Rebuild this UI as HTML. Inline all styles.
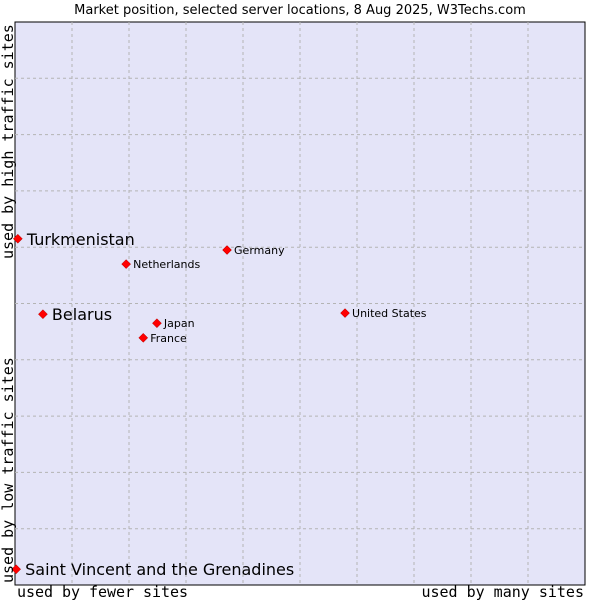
<!DOCTYPE html>
<html><head><meta charset="utf-8"><style>
body{margin:0;background:#fff;width:600px;height:600px;overflow:hidden}
svg text{font-family:"DejaVu Sans","Liberation Sans",sans-serif}
.ax{font-family:'DejaVu Sans Mono','Liberation Mono',monospace;font-size:15px}
</style></head><body>
<svg id="c" width="600" height="600">
<text x="300" y="14" text-anchor="middle" font-size="13" fill="#000">Market position, selected server locations, 8 Aug 2025, W3Techs.com</text>
<rect x="15" y="22" width="570" height="563" fill="#e4e4f8" stroke="#000" stroke-width="1"/>
<g id="grid"></g>
<g id="pts"></g>
<text x="17" y="597" class="ax" textLength="171">used by fewer sites</text>
<text x="584" y="597" text-anchor="end" class="ax">used by many sites</text>
<text transform="translate(13,583) rotate(-90)" class="ax">used by low traffic sites</text>
<text transform="translate(13,259) rotate(-90)" class="ax">used by high traffic sites</text>
</svg>
<script>
const names=["Turkmenistan","Belarus","Saint Vincent and the Grenadines","Netherlands","Germany","Japan","France","United States"];
const xs=[0.5,4.9,0.2,19.5,37.2,24.9,22.5,57.9];
const ys=[61.5,48.1,2.8,57.0,59.5,46.5,43.9,48.3];
const big=[true,true,true,false,false,false,false,false];
const X0=15,W=570,Y0=22,H=563;
const sx=v=>X0+v/100*W, sy=v=>Y0+H-v/100*H;
const NS="http://www.w3.org/2000/svg";
const g=document.getElementById('grid');
for(let i=1;i<10;i++){
 const a=document.createElementNS(NS,'line');
 a.setAttribute('x1',sx(i*10));a.setAttribute('x2',sx(i*10));a.setAttribute('y1',Y0);a.setAttribute('y2',Y0+H);
 a.setAttribute('stroke','#b4b4b4');a.setAttribute('stroke-dasharray','3,3');
 
 
 g.appendChild(a);
 const b=document.createElementNS(NS,'line');
 b.setAttribute('y1',sy(i*10));b.setAttribute('y2',sy(i*10));b.setAttribute('x1',X0);b.setAttribute('x2',X0+W);
 b.setAttribute('stroke','#b4b4b4');b.setAttribute('stroke-dasharray','3,3');
 
 
 g.appendChild(b);
}
const p=document.getElementById('pts');
names.forEach((n,i)=>{
 const x=sx(xs[i]),y=sy(ys[i]);
 const d=document.createElementNS(NS,'path');
 d.setAttribute('d',`M${x} ${y-4.5}L${x+4.5} ${y}L${x} ${y+4.5}L${x-4.5} ${y}Z`);
 d.setAttribute('fill','#f00');
 d.setAttribute('stroke','#a00');
 d.setAttribute('stroke-width','0.5');
 
 
 p.appendChild(d);
 const t=document.createElementNS(NS,'text');
 t.setAttribute('x',x+(big[i]?9:7));t.setAttribute('y',y+(big[i]?6:4));
 t.setAttribute('font-size',big[i]?16:11);
 t.textContent=n;
 
 
 p.appendChild(t);
});
</script>
</body></html>
